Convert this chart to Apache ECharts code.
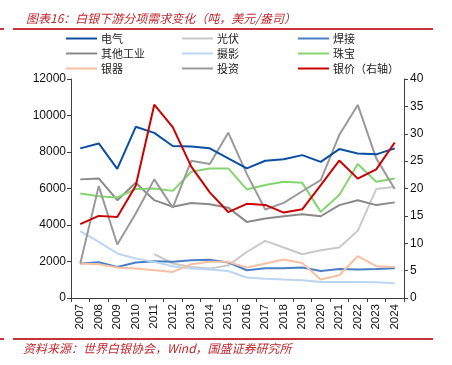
<!DOCTYPE html>
<html><head><meta charset="utf-8">
<script src="https://cdn.jsdelivr.net/npm/echarts@6/dist/echarts.min.js"></script>
<style>html,body{margin:0;padding:0;background:#fff;}#c{width:452px;height:365px;}</style>
</head><body><div id="c"></div>
<script>
var years = ['2007','2008','2009','2010','2011','2012','2013','2014','2015','2016','2017','2018','2019','2020','2021','2022','2023','2024'];
var leftTicks = [0, 2000, 4000, 6000, 8000, 10000, 12000];
var rightTicks = [0, 5, 10, 15, 20, 25, 30, 35, 40];
var electric = [8200, 8470, 7080, 9380, 9050, 8330, 8300, 8200, 7650, 7100, 7520, 7600, 7830, 7460, 8160, 7920, 7870, 8200];
var pv = [null, null, null, null, 2400, 1890, 1700, 1610, 1790, 2520, 3130, 2770, 2400, 2620, 2770, 3680, 5970, 6090];
var welding = [1890, 1960, 1700, 1940, 2010, 1980, 2070, 2100, 1950, 1520, 1630, 1630, 1670, 1480, 1590, 1560, 1590, 1630];
var otherInd = [6500, 6550, 5360, 6310, 5360, 5000, 5210, 5140, 4950, 4170, 4360, 4480, 4590, 4480, 5090, 5360, 5090, 5240];
var photo = [3660, 3070, 2440, 2160, 1980, 1740, 1610, 1560, 1480, 1120, 1060, 1010, 970, 880, 880, 880, 860, 810];
var jewelry = [5730, 5580, 5510, 5970, 6000, 5870, 6920, 7100, 7100, 5950, 6190, 6370, 6310, 4720, 5640, 7340, 6370, 6550];
var silverware = [1890, 1850, 1670, 1610, 1520, 1430, 1850, 1980, 1980, 1670, 1890, 2110, 1920, 1010, 1250, 2290, 1740, 1700];
var investment = [1890, 6130, 2930, 4630, 6500, 4950, 7520, 7340, 9060, 6800, 4850, 5210, 5850, 6460, 8930, 10580, 7650, 5970];
var price = [13.5, 15.0, 14.8, 20.5, 35.3, 31.2, 24.0, 19.3, 15.7, 17.2, 17.0, 15.6, 16.2, 20.6, 25.1, 21.8, 23.5, 28.4];

var names = ['电气','光伏','焊接','其他工业','摄影','珠宝','银器','投资','银价（右轴）'];
var datas = [electric, pv, welding, otherInd, photo, jewelry, silverware, investment, price];
var colors = ['#0B4EA2','#C9C9C9','#4A7FC7','#8A8A8A','#BCD5F0','#86D46F','#F7C0A2','#9A9A9A','#CC0000'];

var cjk = '"Noto Sans CJK SC", sans-serif';
var series = names.map(function(n, i){
  return {name: n, type: 'line', data: datas[i], yAxisIndex: i === 8 ? 1 : 0,
    showSymbol: false, symbol: 'none', connectNulls: false,
    lineStyle: {width: 2, color: colors[i]}, itemStyle: {color: colors[i]},
    z: i === 8 ? 10 : (i === 0 ? 9 : 2)};
});
var legendCols = [66, 182, 298];
var legendRows = [33, 48, 63];
var legends = names.map(function(n, i){
  return {data: [n], left: legendCols[i % 3], top: legendRows[Math.floor(i / 3)],
    icon: 'rect', itemWidth: 31, itemHeight: 2, itemGap: 0,
    textStyle: {fontFamily: cjk, fontSize: 11, color: '#222', padding: [0,0,0,-1]},
    padding: 0};
});
var chart = echarts.init(document.getElementById('c'));
chart.setOption({
  animation: false,
  title: {text: '图表16：白银下游分项需求变化（吨，美元/盎司）', left: 21, top: 7,
    textStyle: {fontFamily: cjk, fontSize: 12, fontStyle: 'italic', fontWeight: 'normal', color: '#C0282E'}},
  legend: legends,
  grid: {left: 71, right: 48, top: 79, bottom: 67},
  xAxis: {type: 'category', data: years, boundaryGap: true,
    axisLine: {lineStyle: {color: '#404040', width: 1}},
    axisTick: {show: true, length: 4, lineStyle: {color: '#404040'}},
    axisLabel: {rotate: 90, margin: 6, fontFamily: 'Liberation Sans', fontSize: 11.5, color: '#111', interval: 0}},
  yAxis: [
    {type: 'value', min: leftTicks[0], max: leftTicks[leftTicks.length-1], interval: 2000,
      splitLine: {show: false},
      axisLine: {show: true, lineStyle: {color: '#404040'}},
      axisTick: {show: true, length: 4, lineStyle: {color: '#404040'}},
      axisLabel: {fontFamily: 'Liberation Sans', fontSize: 12, color: '#111', margin: 5,
        formatter: function(v){ return String(v); }}},
    {type: 'value', min: rightTicks[0], max: rightTicks[rightTicks.length-1], interval: 5,
      splitLine: {show: false},
      axisLine: {show: true, lineStyle: {color: '#404040'}},
      axisTick: {show: true, length: 4, lineStyle: {color: '#404040'}},
      axisLabel: {fontFamily: 'Liberation Sans', fontSize: 12, color: '#111', margin: 6,
        formatter: function(v){ return String(v); }}}
  ],
  graphic: [
    {type: 'line', shape: {x1: 0, y1: 29, x2: 4, y2: 29}, style: {stroke: '#C8323C', lineWidth: 2}},
    {type: 'line', shape: {x1: 13, y1: 29, x2: 433, y2: 29}, style: {stroke: '#C8323C', lineWidth: 2}},
    {type: 'line', shape: {x1: 0, y1: 339, x2: 4, y2: 339}, style: {stroke: '#C8323C', lineWidth: 2}},
    {type: 'line', shape: {x1: 13, y1: 339, x2: 433, y2: 339}, style: {stroke: '#C8323C', lineWidth: 2}},
    {type: 'text', left: 23, top: 342, style: {text: '资料来源：世界白银协会，Wind，国盛证券研究所',
      font: 'italic 12px "Noto Sans CJK SC", sans-serif', fill: '#C0282E'}}
  ],
  series: series
});
</script></body></html>
